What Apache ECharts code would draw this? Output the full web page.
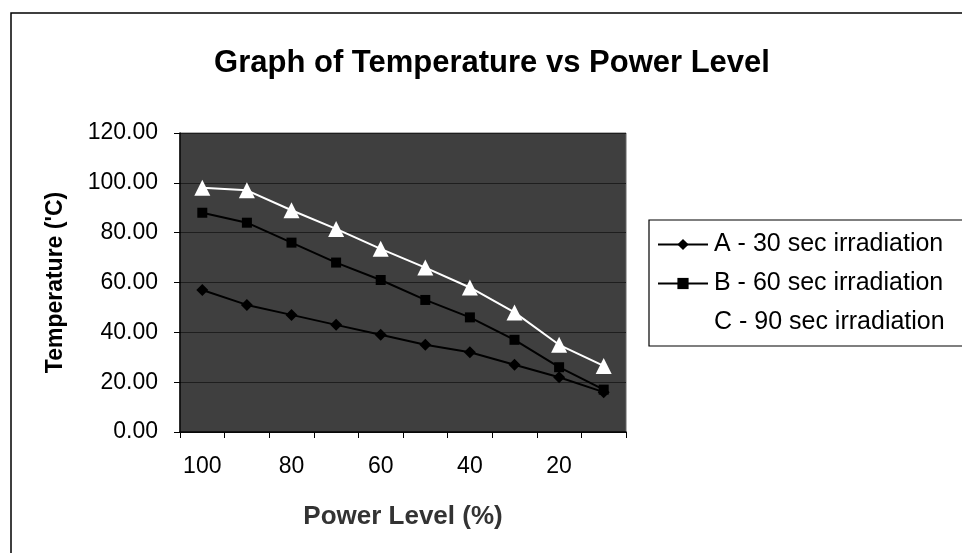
<!DOCTYPE html>
<html><head><meta charset="utf-8">
<script src="https://cdn.jsdelivr.net/npm/echarts@6/dist/echarts.min.js"></script>
<style>html,body{margin:0;padding:0;background:#fff}#c{width:962px;height:553px}</style>
</head><body><div id="c"></div>
<script>
var categories = ['100','90','80','70','60','50','40','30','20','10'];
var seriesA = [57, 51, 47, 43, 39, 35, 32, 27, 22, 16];
var seriesB = [88, 84, 76, 68, 61, 53, 46, 37, 26, 17];
var seriesC = [98, 97, 89, 81.5, 73.5, 66, 58, 48, 35, 26.5];
var yTicks = [0, 20, 40, 60, 80, 100, 120];
var names = ['A - 30 sec irradiation', 'B - 60 sec irradiation', 'C - 90 sec irradiation'];

var chart = echarts.init(document.getElementById('c'));
var F = 'Arial, "Liberation Sans", sans-serif';
chart.setOption({
  backgroundColor: '#fff',
  animation: false,
  title: {
    text: 'Graph of Temperature vs Power Level',
    left: 487, textAlign: 'center', top: 43,
    textStyle: {fontFamily: F, fontSize: 31, fontWeight: 'bold', color: '#000'}
  },
  graphic: [{
    type: 'rect', shape: {x: 11, y: 13, width: 1000, height: 600},
    style: {fill: 'none', stroke: '#000', lineWidth: 1.5}, silent: true, z: -1
  }],
  grid: {
    left: 180, right: 336, top: 133, bottom: 121,
    show: true, backgroundColor: '#3f3f3f', borderColor: '#666', borderWidth: 1
  },
  legend: {
    orient: 'vertical', left: 649, top: 220,
    data: names,
    itemWidth: 50, itemHeight: 14, itemGap: 14,
    padding: [12, 120, 11, 8],
    borderColor: '#000', borderWidth: 1.2, borderRadius: 0,
    backgroundColor: '#fff',
    textStyle: {fontFamily: F, fontSize: 25, lineHeight: 24, color: '#000', padding: [0, 0, 0, 1]}
  },
  xAxis: {
    type: 'category', data: categories, boundaryGap: true,
    name: 'Power Level (%)', nameLocation: 'middle', nameGap: 72,
    nameTextStyle: {fontFamily: F, fontSize: 26, fontWeight: 'bold', color: '#333'},
    axisLine: {lineStyle: {color: '#000', width: 1.5}},
    axisTick: {show: true, interval: 0, length: 6, lineStyle: {color: '#000'}},
    axisLabel: {interval: 1, fontFamily: F, fontSize: 23, color: '#000', margin: 23},
    splitLine: {show: false}
  },
  yAxis: {
    type: 'value', min: yTicks[0], max: yTicks[yTicks.length - 1], interval: 20,
    name: "Temperature ('C)", nameLocation: 'middle', nameGap: 113, nameRotate: 90,
    nameTextStyle: {fontFamily: F, fontSize: 23, fontWeight: 'bold', color: '#000'},
    axisLine: {show: true, lineStyle: {color: '#000', width: 1.5}},
    axisTick: {show: true, length: 6, lineStyle: {color: '#000'}},
    axisLabel: {fontFamily: F, fontSize: 23, color: '#000', margin: 22,
      formatter: function (v) { return v.toFixed(2); }},
    splitLine: {show: true, lineStyle: {color: '#1e1e1e', width: 1}}
  },
  series: [
    {name: names[0], type: 'line', data: seriesA, symbol: 'diamond', symbolSize: 12,
     lineStyle: {color: '#000', width: 2}, itemStyle: {color: '#000'}},
    {name: names[1], type: 'line', data: seriesB, symbol: 'rect', symbolSize: 10,
     lineStyle: {color: '#000', width: 2}, itemStyle: {color: '#000'}},
    {name: names[2], type: 'line', data: seriesC, symbol: 'triangle', symbolSize: 16,
     lineStyle: {color: '#fff', width: 2}, itemStyle: {color: '#fff'}}
  ]
});
</script></body></html>
